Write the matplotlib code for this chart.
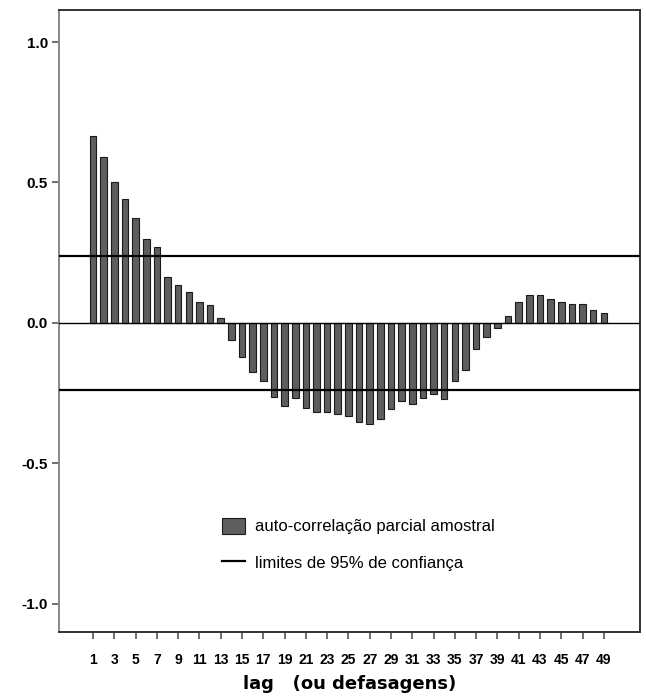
import numpy as np
from matplotlib import pyplot as plt
from matplotlib.patches import Patch
from matplotlib.lines import Line2D

lags = np.arange(1, 50)
pacf = [0.665, 0.59, 0.50, 0.44, 0.374, 0.30, 0.27, 0.164, 0.135, 0.11,
        0.075, 0.064, 0.018, -0.062, -0.12, -0.173, -0.208, -0.262, -0.295, -0.268,
        -0.303, -0.318, -0.318, -0.325, -0.333, -0.353, -0.36, -0.343, -0.305, -0.279,
        -0.288, -0.268, -0.254, -0.269, -0.206, -0.169, -0.092, -0.05, -0.018, 0.026,
        0.074, 0.1, 0.1, 0.085, 0.073, 0.066, 0.066, 0.046, 0.034]
conf = 0.237
ytick_vals = [-1.0, -0.5, 0.0, 0.5, 1.0]
xtick_vals = list(range(1, 50, 2))

plt.rcParams['font.family'] = ['Liberation Sans', 'DejaVu Sans']

fig = plt.figure(figsize=(6.46, 6.99), dpi=100)
ax = fig.add_axes([0.0913, 0.0959, 0.8994, 0.8898])

ax.bar(lags, pacf, width=0.62, color='#5e5e5e', edgecolor='#1a1a1a', linewidth=0.8, zorder=2)
ax.axhline(0, color='black', linewidth=1.0, zorder=3)
ax.axhline(conf, color='black', linewidth=1.6, zorder=3)
ax.axhline(-conf, color='black', linewidth=1.6, zorder=3)

ax.set_xlim(-2.2, 52.4)
ax.set_ylim(-1.10, 1.114)
ax.set_yticks(ytick_vals)
ax.set_yticklabels([f'{v:.1f}' for v in ytick_vals], fontweight='bold', fontsize=11)
ax.set_xticks(xtick_vals)
ax.set_xticklabels([str(v) for v in xtick_vals], fontweight='bold', fontsize=10)
ax.tick_params(axis='y', length=5, width=1.2, color='#555555', pad=3)
ax.tick_params(axis='x', length=5, width=1.2, color='#555555', pad=10)

for side in ['top', 'right', 'bottom']:
    ax.spines[side].set_color('#333333')
    ax.spines[side].set_linewidth(1.4)
ax.spines['left'].set_color('#888888')
ax.spines['left'].set_linewidth(1.4)

ax.set_xlabel('lag   (ou defasagens)', fontsize=13, fontweight='bold',
              family='DejaVu Sans', labelpad=6)

handles = [Patch(facecolor='#5e5e5e', edgecolor='#1a1a1a', linewidth=0.8),
           Line2D([0], [0], color='black', linewidth=1.6)]
ax.legend(handles, ['auto-correlação parcial amostral', 'limites de 95% de confiança'],
          loc='upper left', bbox_to_anchor=(0.255, 0.208), frameon=False,
          fontsize=12, handlelength=1.4, handleheight=1.1, labelspacing=1.2,
          handletextpad=0.6)

fig.savefig('out.png', dpi=100)
